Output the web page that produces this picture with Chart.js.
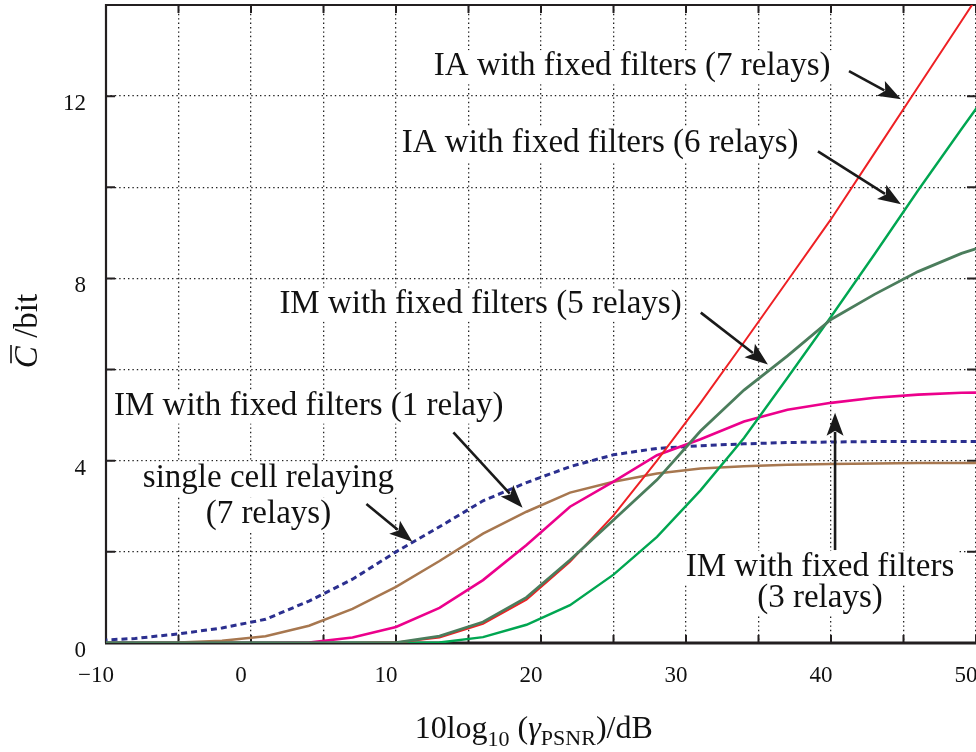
<!DOCTYPE html>
<html>
<head>
<meta charset="utf-8">
<script src="https://cdn.jsdelivr.net/npm/chart.js@4"></script>
<style>
  html, body { margin: 0; padding: 0; background: #fff; }
  #wrap { width: 976px; height: 752px; }
</style>
</head>
<body>
<div id="wrap"><canvas id="capacityChart" width="976" height="752"></canvas></div>
<script>
// Eixo X: 10log10(gamma_PSNR) em dB (vértices das curvas)
const snrDb = [-11, -8, -5, -2, 1, 4, 7, 10, 13, 16, 19, 22, 25, 28, 31, 34, 37, 40, 43, 46, 49, 52];

// Capacidade média em bit para cada curva
const singleCell7 = [0.05, 0.1, 0.2, 0.33, 0.52, 0.92, 1.4, 2.0, 2.55, 3.12, 3.52, 3.87, 4.13, 4.27, 4.33, 4.37, 4.4, 4.41, 4.42, 4.42, 4.42, 4.42];
const imFixed1 = [0, 0, 0.01, 0.05, 0.15, 0.38, 0.75, 1.23, 1.8, 2.4, 2.88, 3.3, 3.54, 3.72, 3.83, 3.88, 3.91, 3.93, 3.94, 3.95, 3.95, 3.95];
const imFixed3 = [0, 0, 0, 0, 0, 0.01, 0.12, 0.35, 0.77, 1.38, 2.15, 2.99, 3.54, 4.12, 4.47, 4.86, 5.12, 5.27, 5.38, 5.45, 5.49, 5.5];
const imFixed5 = [0, 0, 0, 0, 0, 0, 0, 0.01, 0.15, 0.46, 1.0, 1.82, 2.7, 3.58, 4.65, 5.55, 6.3, 7.1, 7.65, 8.15, 8.55, 8.85];
const iaFixed6 = [0, 0, 0, 0, 0, 0, 0, 0, 0.01, 0.13, 0.4, 0.83, 1.5, 2.33, 3.35, 4.5, 5.82, 7.16, 8.53, 9.93, 11.28, 12.6];
const iaFixed7 = [0, 0, 0, 0, 0, 0, 0, 0.01, 0.12, 0.42, 0.95, 1.78, 2.8, 4.0, 5.27, 6.6, 7.95, 9.3, 10.75, 12.2, 13.65, 15.1];

// Rótulos dos eixos
const xTickLabels = [-10, 0, 10, 20, 30, 40, 50];
const yTickLabels = [0, 4, 8, 12];

const serif = '"Liberation Serif", "Times New Roman", serif';

// Textos e setas (em coordenadas dos dados)
const notes = [
  { lines: ["IA with fixed filters (7 relays)"], x: 26.29, y: [12.46] },
  { lines: ["IA with fixed filters (6 relays)"], x: 24.08, y: [10.77] },
  { lines: ["IM with fixed filters (5 relays)"], x: 15.83, y: [7.25] },
  { lines: ["IM with fixed filters (1 relay)"], x: 3.98, y: [5.01] },
  { lines: ["single cell relaying", "(7 relays)"], x: 1.2, y: [3.43, 2.64] },
  { lines: ["IM with fixed filters", "(3 relays)"], x: 39.24, y: [1.47, 0.79] },
];
const arrows = [
  { from: [41.24, 12.55], to: [44.83, 11.93] },
  { from: [39.1, 10.79], to: [44.83, 9.63] },
  { from: [31.02, 7.25], to: [35.65, 6.11] },
  { from: [13.96, 4.62], to: [18.73, 2.97] },
  { from: [7.96, 3.05], to: [11.13, 2.22] },
  { from: [40.28, 2.04], to: [40.28, 5.05] },
];

const toPoints = (ys) => ys.map((v, i) => ({ x: snrDb[i], y: v }));

function drawArrow(ctx, x1, y1, x2, y2) {
  const ang = Math.atan2(y2 - y1, x2 - x1);
  const head = 23, half = 8.5;
  const bx = x2 - head * Math.cos(ang), by = y2 - head * Math.sin(ang);
  ctx.beginPath();
  ctx.moveTo(x1, y1);
  ctx.lineTo(bx + 4 * Math.cos(ang), by + 4 * Math.sin(ang));
  ctx.stroke();
  ctx.beginPath();
  ctx.moveTo(x2, y2);
  ctx.lineTo(bx + half * Math.sin(ang), by - half * Math.cos(ang));
  ctx.lineTo(bx + 5 * Math.cos(ang), by + 5 * Math.sin(ang));
  ctx.lineTo(bx - half * Math.sin(ang), by + half * Math.cos(ang));
  ctx.closePath();
  ctx.fill();
}

const decorPlugin = {
  id: "decor",
  beforeDatasetsDraw(chart) {
    const { ctx, chartArea: a, scales: { x, y } } = chart;
    ctx.save();
    // fundo branco por trás dos textos (interrompe a grade)
    ctx.font = "33px " + serif;
    ctx.fillStyle = "#fff";
    notes.forEach((n) => {
      n.lines.forEach((t, i) => {
        const m = ctx.measureText(t);
        const cx = x.getPixelForValue(n.x), by = y.getPixelForValue(n.y[i]);
        ctx.fillRect(cx - m.width / 2 - 3, by - 25, m.width + 6, 34);
      });
    });
    // moldura com marcas internas
    ctx.strokeStyle = "#231f20";
    ctx.lineWidth = 2.2;
    ctx.beginPath();
    ctx.moveTo(a.left, a.bottom);
    ctx.lineTo(a.left, a.top);
    ctx.lineTo(a.right, a.top);
    ctx.stroke();
    ctx.lineWidth = 3.2;
    ctx.beginPath();
    ctx.moveTo(a.left - 1, a.bottom);
    ctx.lineTo(a.right, a.bottom);
    ctx.stroke();
    ctx.lineWidth = 2;
    ctx.beginPath();
    x.ticks.forEach((t) => {
      const px = x.getPixelForValue(t.value);
      ctx.moveTo(px, a.bottom); ctx.lineTo(px, a.bottom - 8);
      ctx.moveTo(px, a.top); ctx.lineTo(px, a.top + 8);
    });
    y.ticks.forEach((t) => {
      const py = y.getPixelForValue(t.value);
      ctx.moveTo(a.left, py); ctx.lineTo(a.left + 9, py);
      ctx.moveTo(a.right, py); ctx.lineTo(a.right - 9, py);
    });
    ctx.stroke();
    ctx.restore();
  },
  afterDatasetsDraw(chart) {
    const { ctx, scales: { x, y } } = chart;
    ctx.save();
    ctx.font = "33px " + serif;
    ctx.fillStyle = "#111";
    ctx.textAlign = "center";
    ctx.textBaseline = "alphabetic";
    notes.forEach((n) => {
      n.lines.forEach((t, i) => {
        ctx.fillText(t, x.getPixelForValue(n.x), y.getPixelForValue(n.y[i]));
      });
    });
    ctx.strokeStyle = "#1a1a1a";
    ctx.fillStyle = "#1a1a1a";
    ctx.lineWidth = 2.6;
    arrows.forEach((r) => {
      drawArrow(ctx,
        x.getPixelForValue(r.from[0]), y.getPixelForValue(r.from[1]),
        x.getPixelForValue(r.to[0]), y.getPixelForValue(r.to[1]));
    });
    ctx.restore();
  },
  afterDraw(chart) {
    const { ctx, scales: { x } } = chart;
    ctx.save();
    ctx.fillStyle = "#111";
    ctx.textBaseline = "alphabetic";
    // título do eixo X: 10log10 (gamma_PSNR)/dB
    const main = "32px " + serif, sub = "22px " + serif, ital = "italic 32px " + serif;
    const runs = [
      { t: "10log", f: main, dy: 0 },
      { t: "10", f: sub, dy: 8 },
      { t: " (", f: main, dy: 0 },
      { t: "\u03b3", f: ital, dy: 0 },
      { t: "PSNR", f: sub, dy: 7 },
      { t: ")/dB", f: main, dy: 0 },
    ];
    let w = 0;
    runs.forEach((r) => { ctx.font = r.f; r.w = ctx.measureText(r.t).width; w += r.w; });
    let px = x.getPixelForValue(19.5) - w / 2;
    runs.forEach((r) => { ctx.font = r.f; ctx.fillText(r.t, px, 738 + r.dy); px += r.w; });
    // título do eixo Y: C-barra/bit
    ctx.translate(37, 331);
    ctx.rotate(-Math.PI / 2);
    ctx.font = "italic 33px " + serif;
    const wc = ctx.measureText("C").width;
    ctx.font = "33px " + serif;
    const wr = ctx.measureText(" /bit").width;
    const sx = -(wc + wr) / 2;
    ctx.font = "italic 33px " + serif;
    ctx.fillText("C", sx, 0);
    ctx.strokeStyle = "#111";
    ctx.lineWidth = 1.6;
    ctx.beginPath();
    ctx.moveTo(sx + 5, -26);
    ctx.lineTo(sx + wc + 1, -26);
    ctx.stroke();
    ctx.font = "33px " + serif;
    ctx.fillText(" /bit", sx + wc, 0);
    ctx.restore();
  },
};

const ctx = document.getElementById("capacityChart").getContext("2d");

new Chart(ctx, {
  type: "line",
  data: {
    datasets: [
      { label: "IM with fixed filters (5 relays)", data: toPoints(imFixed5), borderColor: "#4b7d5c", borderWidth: 2.8 },
      { label: "IA with fixed filters (7 relays)", data: toPoints(iaFixed7), borderColor: "#ee2024", borderWidth: 2 },
      { label: "IA with fixed filters (6 relays)", data: toPoints(iaFixed6), borderColor: "#00a651", borderWidth: 2.4 },
      { label: "IM with fixed filters (3 relays)", data: toPoints(imFixed3), borderColor: "#ec008c", borderWidth: 2.6 },
      { label: "IM with fixed filters (1 relay)", data: toPoints(imFixed1), borderColor: "#a7774f", borderWidth: 2.5 },
      { label: "single cell relaying (7 relays)", data: toPoints(singleCell7), borderColor: "#2b2f8f", borderWidth: 3, borderDash: [6, 4] },
    ],
  },
  options: {
    responsive: false,
    animation: false,
    devicePixelRatio: 1,
    layout: { padding: { top: 5, right: 0, left: 0, bottom: 0 } },
    elements: { point: { radius: 0 }, line: { tension: 0, fill: false } },
    plugins: { legend: { display: false }, tooltip: { enabled: false } },
    scales: {
      x: {
        type: "linear",
        min: -10,
        max: 50,
        grid: { color: "#222", lineWidth: 1.3, drawTicks: false },
        border: { display: false, dash: [1.4, 3] },
        ticks: {
          stepSize: 5,
          autoSkip: false,
          maxRotation: 0,
          padding: 19,
          labelOffset: -10,
          color: "#111",
          font: { family: serif, size: 23 },
          callback: (v) => (xTickLabels.includes(v) ? String(v).replace("-", "\u2212") : ""),
        },
        afterFit: (s) => { s.height = 109; s.paddingLeft = 0; s.paddingRight = 0; },
      },
      y: {
        min: 0,
        max: 14,
        grid: { color: "#222", lineWidth: 1.3, drawTicks: false },
        border: { display: false, dash: [1.4, 3] },
        ticks: {
          stepSize: 2,
          padding: 20,
          labelOffset: 8,
          color: "#111",
          font: { family: serif, size: 23 },
          callback: (v) => (yTickLabels.includes(v) ? String(v) : ""),
        },
        afterFit: (s) => { s.width = 106; s.paddingTop = 0; s.paddingBottom = 0; },
      },
    },
  },
  plugins: [decorPlugin],
});
</script>
</body>
</html>
